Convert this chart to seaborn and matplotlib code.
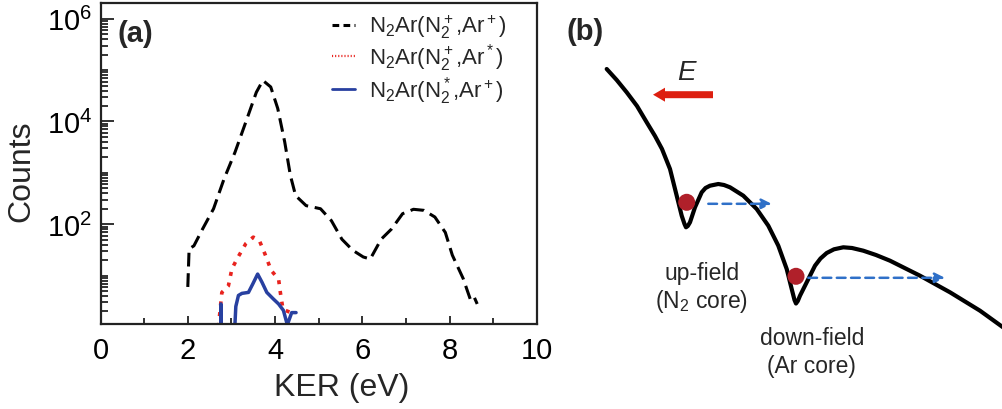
import numpy as np
import pandas as pd
import matplotlib
matplotlib.use("Agg")
import matplotlib.pyplot as plt
import seaborn as sns
from matplotlib.ticker import LogLocator, NullFormatter, MultipleLocator

# ---- panel (a): KER spectra (counts) ----
ker_ion = [2.0, 2.03, 2.14, 2.34, 2.59, 2.83, 3.08, 3.33, 3.57, 3.72, 3.9, 4.06,
           4.22, 4.35, 4.47, 4.71, 5.04, 5.29, 5.53, 5.78, 6.02, 6.18, 6.43, 6.67,
           6.92, 7.17, 7.41, 7.66, 7.9, 8.06, 8.31, 8.39, 8.47, 8.55, 8.63]
counts_ion = [6.0, 33, 38, 81, 200, 760, 2500, 9800, 37000, 63000, 47000, 18000,
              4000, 890, 360, 230, 200, 117, 51, 31, 23, 21, 51, 81,
              160, 195, 186, 138, 69, 25, 8.7, 5.5, 3.5, 4.0, 2.8]

ker_ar_exc = [2.70, 2.74, 2.78, 2.93, 3.01, 3.14, 3.33, 3.50, 3.64, 3.77, 3.91,
              4.08, 4.12, 4.18, 4.36, 4.42]
counts_ar_exc = [1.0, 2.1, 4.7, 6.3, 13.5, 22, 42, 56, 48, 26, 12.6,
                 8.5, 4.7, 2.2, 1.9, 1.9]

ker_n2_exc = [2.75, 2.76, 2.77, 3.06, 3.10, 3.16, 3.24, 3.39, 3.49, 3.60, 3.70,
              3.81, 3.96, 4.08, 4.19, 4.28, 4.38, 4.48]
counts_n2_exc = [0.5, 2.8, 0.5, 0.5, 2.5, 4.1, 4.5, 4.7, 6.9, 10.7, 7.4,
                 4.7, 3.5, 2.8, 2.1, 1.1, 1.9, 1.9]

labels = [r"N$_2$Ar(N$_2^+$,Ar$^+$)",
          r"N$_2$Ar(N$_2^+$,Ar$^*$)",
          r"N$_2$Ar(N$_2^*$,Ar$^+$)"]

# ---- panel (b): schematic potential (schematic units) ----
pot_x = [606.7, 616.7, 626.7, 637, 646.7, 655, 662, 670, 676.7, 681.7, 684.5, 686,
         687.8, 690, 695, 701.7, 705.5, 710, 718.3, 724, 730, 743.3, 756.7, 768.3,
         778.3, 786.7, 791.7, 794.5, 796, 797.8, 800, 806.7, 815, 820.5, 826.7,
         834, 843.3, 852, 863.3, 876, 890, 920, 950, 980, 1003]
pot_y = [70, 81, 93.3, 107, 123.3, 137, 150, 170, 196.7, 216.7, 225, 228.3,
         227, 223.3, 208.3, 193.3, 189, 186.7, 185, 186, 188.3, 196.7, 210, 226.7,
         246.7, 270, 290, 301, 304.5, 302, 296.7, 283.3, 266.7, 259.5, 254,
         250.3, 248.3, 249, 251.7, 256, 261.7, 276.7, 293.3, 311.7, 328.3]
electron_x = [686.7, 796]
electron_y = [203.3, 277.3]
escape_start = [708.3, 808.3]
escape_end = [771.7, 945]

sns.set_style("ticks")
plt.rcParams["font.family"] = ["Liberation Sans", "DejaVu Sans"]
plt.rcParams["mathtext.fontset"] = "custom"
plt.rcParams["mathtext.rm"] = "Liberation Sans"
plt.rcParams["mathtext.it"] = "Liberation Sans:italic"
plt.rcParams["mathtext.bf"] = "Liberation Sans:bold"

fig = plt.figure(figsize=(10.03, 4.10), dpi=100)
ax = fig.add_axes([100.5 / 1003, 85 / 410, 436.5 / 1003, 320.7 / 410])

df_ion = pd.DataFrame({"KER": ker_ion, "Counts": counts_ion})
df_ar = pd.DataFrame({"KER": ker_ar_exc, "Counts": counts_ar_exc})
df_n2 = pd.DataFrame({"KER": ker_n2_exc, "Counts": counts_n2_exc})

sns.lineplot(data=df_ion, x="KER", y="Counts", ax=ax, color="black", lw=2.2,
             linestyle=(0, (4.5, 2.2)), estimator=None, sort=False, label=labels[0])
sns.lineplot(data=df_ar, x="KER", y="Counts", ax=ax, color="#E8231E", lw=2.6,
             linestyle=(0, (1.1, 1.9)), estimator=None,
             sort=False, label=labels[1])
sns.lineplot(data=df_n2, x="KER", y="Counts", ax=ax, color="#2840A0", lw=2.5,
             estimator=None, sort=False, label=labels[2])

ax.set_yscale("log")
ax.set_xlim(0, 10)
ax.set_ylim(1.14, 2.0e6)
ax.set_yticks([1e2, 1e4, 1e6])
ax.yaxis.set_minor_locator(LogLocator(base=10, subs=np.arange(1, 10), numticks=20))
ax.yaxis.set_minor_formatter(NullFormatter())
ax.xaxis.set_major_locator(MultipleLocator(2))
ax.xaxis.set_minor_locator(MultipleLocator(1))
ax.tick_params(which="both", direction="in", width=1.3, colors="#222222",
               labelcolor="black", labelsize=21)
ax.tick_params(axis="x", which="major", length=6, pad=9)
ax.tick_params(axis="x", which="minor", length=4)
ax.tick_params(axis="y", which="major", length=9, pad=6)
ax.tick_params(axis="y", which="minor", length=5)
for sp in ax.spines.values():
    sp.set_linewidth(1.6)
    sp.set_color("#222222")

ax.set_xlabel("KER (eV)", fontsize=23)
ax.set_ylabel("Counts", fontsize=23)
ax.xaxis.set_label_coords(0.552, -0.150)
ax.yaxis.set_label_coords(-0.146, 0.48)

ax.text(0.08, 0.907, "(a)", transform=ax.transAxes, fontsize=21,
        fontweight="bold", ha="center", va="center")

leg = ax.legend(loc="upper left", bbox_to_anchor=(0.530, 0.97), frameon=False,
                fontsize=16, handlelength=1.05, handletextpad=0.6,
                labelspacing=0.05, borderpad=0, borderaxespad=0)
handles = leg.legend_handles
handles[0].set_linestyle((0, (2.2, 1.4)))
handles[1].set_linestyle((0, (0.5, 0.9)))
handles[1].set_linewidth(1.6)
handles[2].set_linewidth(2.0)

# ---- panel (b) ----
axb = fig.add_axes([560 / 1003, 0, 443 / 1003, 1])

df_pot = pd.DataFrame({"x": pot_x, "y": pot_y})
sns.lineplot(data=df_pot, x="x", y="y", ax=axb, color="black", lw=3,
             estimator=None, sort=False, solid_joinstyle="round", legend=False)
axb.set_xlim(560, 1003)
axb.set_ylim(410, 0)
axb.axis("off")

sns.scatterplot(x=electron_x, y=electron_y, ax=axb, s=150, color="#B0202A",
                edgecolor="none", zorder=5, legend=False)

for x0, x1, y in zip(escape_start, escape_end, electron_y):
    axb.annotate("", xy=(x1, y + 1.5), xytext=(x0, y + 1.5),
                 arrowprops=dict(arrowstyle="-|>,head_length=0.6,head_width=0.3",
                                 color="#2F70C8", lw=1.8, linestyle=(0, (3.5, 2.2)),
                                 shrinkA=0, shrinkB=0, mutation_scale=10))

# field arrow
axb.arrow(713, 95.7, -60, 0, width=7, head_width=14, head_length=12,
          length_includes_head=True, color="#DD1F10", lw=0)
axb.text(686.7, 73.3, "E", fontsize=20, fontstyle="italic", ha="center", va="center")
axb.text(585, 32, "(b)", fontsize=21, fontweight="bold", ha="center", va="center")

axb.text(701.7, 273.3, "up-field", fontsize=16.5, ha="center", va="center")
axb.text(701.7, 301.7, "(N$_2$ core)", fontsize=16.5, ha="center", va="center")
axb.text(811.7, 338.3, "down-field", fontsize=16.5, ha="center", va="center")
axb.text(811.7, 366.7, "(Ar core)", fontsize=16.5, ha="center", va="center")

fig.savefig("out.png", dpi=100)
